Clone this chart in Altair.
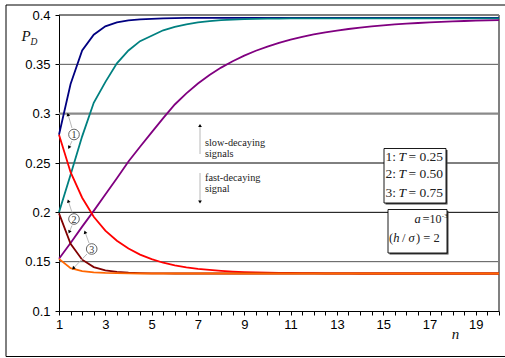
import altair as alt
import pandas as pd

# ---------------- data ----------------
n_values = [1, 1.5, 2, 2.5, 3, 3.5, 4, 4.5, 5, 5.5,
            6, 6.5, 7, 7.5, 8, 8.5, 9, 9.5, 10, 10.5,
            11, 11.5, 12, 12.5, 13, 13.5, 14, 14.5, 15, 15.5,
            16, 16.5, 17, 17.5, 18, 18.5, 19, 19.5, 20]

slow_T025 = [0.2786, 0.3300, 0.3640, 0.3800, 0.3885, 0.3925, 0.3945, 0.3955, 0.3961, 0.3965,
             0.3968, 0.3970, 0.3970, 0.3970, 0.3970, 0.3970, 0.3970, 0.3970, 0.3970, 0.3970,
             0.3970, 0.3970, 0.3970, 0.3970, 0.3970, 0.3970, 0.3970, 0.3970, 0.3970, 0.3970,
             0.3970, 0.3970, 0.3970, 0.3970, 0.3970, 0.3970, 0.3970, 0.3970, 0.3970]

slow_T050 = [0.2000, 0.2380, 0.2770, 0.3110, 0.3320, 0.3510, 0.3640, 0.3735, 0.3790, 0.3845,
             0.3880, 0.3905, 0.3925, 0.3938, 0.3948, 0.3954, 0.3958, 0.3961, 0.3963, 0.3964,
             0.3965, 0.3965, 0.3965, 0.3965, 0.3965, 0.3966, 0.3966, 0.3966, 0.3966, 0.3966,
             0.3966, 0.3966, 0.3966, 0.3966, 0.3966, 0.3966, 0.3966, 0.3966, 0.3966]

slow_T075 = [0.1530, 0.1690, 0.1855, 0.2015, 0.2180, 0.2345, 0.2515, 0.2665, 0.2810, 0.2955,
             0.3093, 0.3206, 0.3306, 0.3392, 0.3467, 0.3532, 0.3588, 0.3638, 0.3680, 0.3718,
             0.3750, 0.3778, 0.3803, 0.3824, 0.3842, 0.3858, 0.3872, 0.3884, 0.3895, 0.3904,
             0.3912, 0.3919, 0.3925, 0.3930, 0.3935, 0.3939, 0.3942, 0.3945, 0.3948]

fast_T025 = [0.2786, 0.2407, 0.2148, 0.1955, 0.1814, 0.1712, 0.1633, 0.1571, 0.1525, 0.1489,
             0.1463, 0.1442, 0.1427, 0.1416, 0.1407, 0.1400, 0.1395, 0.1392, 0.1389, 0.1387,
             0.1385, 0.1384, 0.1383, 0.1382, 0.1381, 0.1381, 0.1380, 0.1380, 0.1380, 0.1380,
             0.1380, 0.1380, 0.1380, 0.1380, 0.1380, 0.1380, 0.1380, 0.1380, 0.1380]

fast_T050 = [0.1990, 0.1680, 0.1520, 0.1445, 0.1412, 0.1396, 0.1388, 0.1384, 0.1382, 0.1381,
             0.1380, 0.1380, 0.1380, 0.1380, 0.1380, 0.1380, 0.1380, 0.1380, 0.1380, 0.1380,
             0.1380, 0.1380, 0.1380, 0.1380, 0.1380, 0.1380, 0.1380, 0.1380, 0.1380, 0.1380,
             0.1380, 0.1380, 0.1380, 0.1380, 0.1380, 0.1380, 0.1380, 0.1380, 0.1380]

fast_T075 = [0.1528, 0.1434, 0.1405, 0.1392, 0.1386, 0.1383, 0.1381, 0.1380, 0.1380, 0.1380,
             0.1380, 0.1380, 0.1380, 0.1380, 0.1380, 0.1380, 0.1380, 0.1380, 0.1380, 0.1380,
             0.1380, 0.1380, 0.1380, 0.1380, 0.1380, 0.1380, 0.1380, 0.1380, 0.1380, 0.1380,
             0.1380, 0.1380, 0.1380, 0.1380, 0.1380, 0.1380, 0.1380, 0.1380, 0.1380]

series_names = ["slow T=0.25", "slow T=0.50", "slow T=0.75",
                "fast T=0.25", "fast T=0.50", "fast T=0.75"]
series_values = [slow_T025, slow_T050, slow_T075, fast_T025, fast_T050, fast_T075]
series_colors = ["#000080", "#008080", "#800080", "#FF0000", "#800000", "#FF6600"]

x_ticks = [1, 1.5, 2, 2.5, 3, 3.5, 4, 4.5, 5, 5.5, 6, 6.5, 7, 7.5, 8, 8.5, 9, 9.5, 10,
           10.5, 11, 11.5, 12, 12.5, 13, 13.5, 14, 14.5, 15, 15.5, 16, 16.5, 17, 17.5,
           18, 18.5, 19, 19.5, 20]
y_ticks = [0.1, 0.15, 0.2, 0.25, 0.3, 0.35, 0.4]
grid_values = [0.15, 0.2, 0.25, 0.3, 0.35, 0.4]
grid_colors = ["#555555", "#000000", "#000000", "#8a8a8a", "#555555", "#000000"]
grid_widths = [1, 1, 1, 2.2, 1, 1]

rows = []
for name, vals in zip(series_names, series_values):
    for n, v in zip(n_values, vals):
        rows.append({"n": n, "P": v, "series": name})
df = pd.DataFrame(rows)

W, H = 440, 296
xscale = alt.Scale(domain=[1, 20], nice=False, zero=False)
yscale = alt.Scale(domain=[0.1, 0.4], nice=False, zero=False)

axis_common = dict(grid=False, domainColor="black", tickColor="black", tickSize=4,
                   labelColor="black", labelFont="Liberation Sans", labelFontSize=13,
                   title=None)

x_axis = alt.Axis(values=x_ticks, labelExpr="datum.value % 2 == 1 ? format(datum.value, 'd') : ''",
                  labelOverlap=False, labelFlush=False, labelPadding=3, **axis_common)
y_axis = alt.Axis(values=y_ticks, format="~g", labelPadding=5, **axis_common)

# ---------------- layers ----------------
frame = alt.Chart(pd.DataFrame({"k": [0]})).mark_rect(
    fillOpacity=0, stroke="black", strokeWidth=1
).encode(x=alt.value(-53), x2=alt.value(452), y=alt.value(-10), y2=alt.value(341.5))

grid_df = pd.DataFrame({"v": grid_values, "col": grid_colors, "w": grid_widths})
grid = alt.Chart(grid_df).mark_rule().encode(
    y=alt.Y("v:Q", scale=yscale, axis=y_axis),
    color=alt.Color("col:N", scale=None),
    strokeWidth=alt.StrokeWidth("w:Q", scale=None),
)

right_border = alt.Chart(pd.DataFrame({"k": [0]})).mark_rule(color="#808080", strokeWidth=2).encode(
    x=alt.value(W), y=alt.value(0), y2=alt.value(H))

lines = alt.Chart(df).mark_line(strokeWidth=1.8).encode(
    x=alt.X("n:Q", scale=xscale, axis=x_axis),
    y=alt.Y("P:Q", scale=yscale, axis=y_axis),
    color=alt.Color("series:N", scale=alt.Scale(domain=series_names, range=series_colors), legend=None),
)

# annotation positions (plot pixel coordinates)
arrow_df = pd.DataFrame({
    "x1": [13, 13, 13, 13, 30, 28, 141, 141],
    "y1": [113, 126, 197.5, 210.5, 228, 239, 139, 158],
    "x2": [9, 10, 9.3, 10.3, 26, 14.3, 141, 141],
    "y2": [99.5, 132.5, 186, 217, 217, 253.3, 111, 186.5],
})
head_df = pd.DataFrame({
    "x": [9, 10, 9.3, 10.3, 26, 14.3, 141, 141],
    "y": [99.5, 132.5, 186, 217, 217, 253.3, 110.5, 187],
    "ang": [344, 205, 342, 203, 340, 224, 0, 180],
})
circle_df = pd.DataFrame({"x": [15, 15, 32.7], "y": [119.5, 204, 234], "label": ["1", "2", "3"]})

arrow_lines = alt.Chart(arrow_df).mark_rule(color="#b0b0b0", strokeWidth=0.9).encode(
    x=alt.X("x1:Q", scale=None), y=alt.Y("y1:Q", scale=None), x2="x2:Q", y2="y2:Q")
heads = alt.Chart(head_df).mark_point(shape="triangle-up", filled=True, color="black",
                                      size=14, opacity=1).encode(
    x=alt.X("x:Q", scale=None), y=alt.Y("y:Q", scale=None), angle=alt.Angle("ang:Q", scale=None))
circles = alt.Chart(circle_df).mark_point(shape="circle", filled=True, fill="white", stroke="#555555",
                                          strokeWidth=0.9, size=113, opacity=1).encode(
    x=alt.X("x:Q", scale=None), y=alt.Y("y:Q", scale=None))
circle_text = alt.Chart(circle_df).mark_text(font="Liberation Serif", fontSize=10, color="#333333",
                                             align="center", baseline="middle", dy=0.5).encode(
    x=alt.X("x:Q", scale=None), y=alt.Y("y:Q", scale=None), text="label:N")

box_df = pd.DataFrame({"x": [325, 329], "x2": [387, 388], "y": [133.5, 194.5], "y2": [188, 238]})
shadow_df = pd.DataFrame({"x": [326.5, 330.5], "x2": [388.5, 389.5], "y": [135, 196], "y2": [189.5, 239.5]})
shadows = alt.Chart(shadow_df).mark_rect(fill="#444444").encode(
    x=alt.X("x:Q", scale=None), x2="x2:Q", y=alt.Y("y:Q", scale=None), y2="y2:Q")
boxes = alt.Chart(box_df).mark_rect(fill="white", stroke="black", strokeWidth=0.9).encode(
    x=alt.X("x:Q", scale=None), x2="x2:Q", y=alt.Y("y:Q", scale=None), y2="y2:Q")

normal_text_df = pd.DataFrame([
    {"x": 146, "y": 130.7, "t": "slow-decaying", "fs": 10.3},
    {"x": 146, "y": 142.3, "t": "signals", "fs": 10.3},
    {"x": 146, "y": 166.0, "t": "fast-decaying", "fs": 10.3},
    {"x": 146, "y": 176.7, "t": "signal", "fs": 10.3},
    {"x": 326.5, "y": 145.7, "t": "1:", "fs": 13.5},
    {"x": 326.5, "y": 163.3, "t": "2:", "fs": 13.5},
    {"x": 326.5, "y": 182.3, "t": "3:", "fs": 13.5},
    {"x": 349.5, "y": 145.7, "t": "= 0.25", "fs": 13.5},
    {"x": 349.5, "y": 163.3, "t": "= 0.50", "fs": 13.5},
    {"x": 349.5, "y": 182.3, "t": "= 0.75", "fs": 13.5},
    {"x": 363.5, "y": 208.3, "t": "=", "fs": 12.5},
    {"x": 370.5, "y": 208.3, "t": "10", "fs": 12},
    {"x": 382.8, "y": 203.0, "t": "-3", "fs": 7},
    {"x": 330, "y": 226.7, "t": "(", "fs": 12.5},
    {"x": 343, "y": 226.7, "t": "/", "fs": 12.5},
    {"x": 357, "y": 226.7, "t": ") = 2", "fs": 12.5},
])
italic_text_df = pd.DataFrame([
    {"x": 339.5, "y": 145.7, "t": "T", "fs": 13.5},
    {"x": 339.5, "y": 163.3, "t": "T", "fs": 13.5},
    {"x": 339.5, "y": 182.3, "t": "T", "fs": 13.5},
    {"x": 355.5, "y": 208.3, "t": "a", "fs": 12.5},
    {"x": 334.2, "y": 226.7, "t": "h", "fs": 12.5},
    {"x": 349.5, "y": 226.7, "t": "σ", "fs": 12.5},
    {"x": -37.5, "y": 25.7, "t": "P", "fs": 15},
    {"x": -28.5, "y": 30.0, "t": "D", "fs": 9.5},
    {"x": 392.7, "y": 324.0, "t": "n", "fs": 15},
])

normal_text = alt.Chart(normal_text_df).mark_text(
    font="Liberation Serif", align="left", baseline="alphabetic", color="#222222").encode(
    x=alt.X("x:Q", scale=None), y=alt.Y("y:Q", scale=None), text="t:N",
    size=alt.Size("fs:Q", scale=None))
italic_text = alt.Chart(italic_text_df).mark_text(
    font="Liberation Serif", fontStyle="italic", align="left", baseline="alphabetic",
    color="#111111").encode(
    x=alt.X("x:Q", scale=None), y=alt.Y("y:Q", scale=None), text="t:N",
    size=alt.Size("fs:Q", scale=None))

chart = alt.layer(
    frame, grid, right_border, lines, arrow_lines, heads, circles, circle_text,
    shadows, boxes, normal_text, italic_text
).properties(
    width=W, height=H,
    padding={"left": 59, "top": 15, "right": 6, "bottom": 47},
    autosize=alt.AutoSizeParams(type="none"),
    background="white",
).configure_view(strokeWidth=0)

chart.save("out.html", embed_options={"renderer": "svg", "actions": False})
